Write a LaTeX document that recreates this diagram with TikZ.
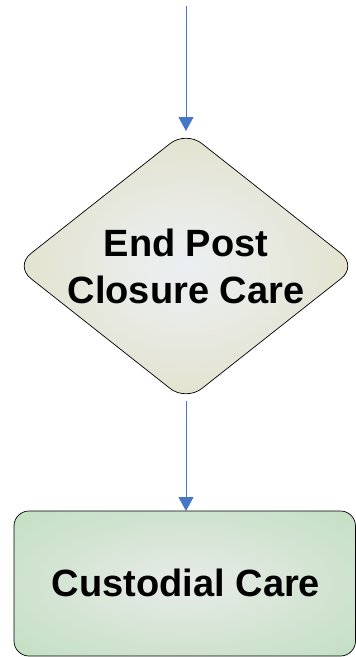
\documentclass[tikz,border=0pt]{standalone}
\usepackage{fontspec}
\setmainfont{Liberation Sans}
\usetikzlibrary{shapes.geometric,arrows.meta}

% soft radial fills: light centre fading to the body colour at the rim
\pgfdeclareradialshading{decisionfill}{\pgfpoint{0bp}{0bp}}{%
  rgb(0bp)=(0.925,0.937,0.949);
  rgb(12bp)=(0.910,0.918,0.890);
  rgb(35bp)=(0.867,0.863,0.737);
  rgb(50bp)=(0.863,0.859,0.725)}
\pgfdeclareradialshading{processfill}{\pgfpoint{0bp}{0bp}}{%
  rgb(0bp)=(0.906,0.925,0.910);
  rgb(12bp)=(0.860,0.905,0.860);
  rgb(35bp)=(0.765,0.875,0.765);
  rgb(50bp)=(0.757,0.871,0.757)}

\definecolor{flowblue}{RGB}{70,118,198}

\tikzset{
  flowarrow/.style={draw=flowblue, line width=0.9pt,
    -{Triangle[length=14pt,width=15pt]}},
  decisionbox/.style={diamond, draw=black, line width=0.7pt,
    rounded corners=20pt, shading=decisionfill,
    minimum width=342pt, minimum height=270pt, inner sep=0pt, outer sep=0pt},
  processbox/.style={rectangle, draw=black, line width=0.7pt,
    rounded corners=15pt, shading=processfill,
    minimum width=341.5pt, minimum height=145pt, inner sep=0pt, outer sep=0pt},
  labeltext/.style={font=\bfseries\fontsize{38}{47}\selectfont, align=center,
    inner sep=0pt}
}

\begin{document}
\begin{tikzpicture}[x=1pt,y=-1pt]
  \useasboundingbox (0,0) rectangle (356,657);

  \coordinate (entry) at (186,6);

  \node[decisionbox] (endpcc) at (186,266) {};
  \node[labeltext] (endpcctext) at (186,266) {End Post\\Closure Care};

  \node[processbox] (custodial) at (184.75,583.5) {};
  \node[labeltext] (custodialtext) at (186,583) {Custodial Care};

  \draw[flowarrow] (entry) -- (endpcc.north);
  \draw[flowarrow] (endpcc.south) -- (endpcc.south |- custodial.north);
\end{tikzpicture}
\end{document}
